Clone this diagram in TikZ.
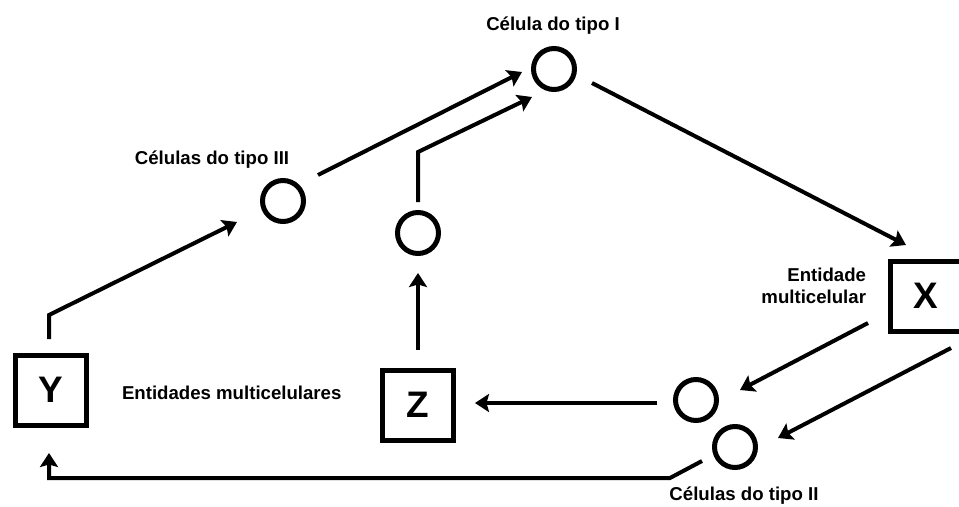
\documentclass[tikz,border=0pt]{standalone}
\usepackage{fontspec}
\setmainfont{Liberation Sans}
\usetikzlibrary{arrows.meta}

\begin{document}
\begin{tikzpicture}[x=0.2mm,y=-0.2mm,->,>={Stealth[length=2.8mm,width=3.6mm,inset=0.5mm]},line width=0.8mm,
cell/.style={circle,draw,line width=1mm,minimum size=8.2mm,inner sep=0pt},
entity/.style={rectangle,draw,line width=1mm,minimum width=14.2mm,minimum height=14mm,font=\fontsize{21}{21}\selectfont\bfseries},
lbl/.style={font=\fontsize{10.6}{12.6}\selectfont\bfseries,inner sep=0pt}]
\useasboundingbox (0,0) rectangle (959,507);
\node[cell] (c1) at (554,69) {};
\node[cell] (c3) at (283,201) {};
\node[cell] (c4) at (418,233) {};
\node[cell] (c2a) at (696,400) {};
\node[cell] (c2b) at (735,447) {};
\node[entity] (Y) at (51,390) {Y};
\node[entity] (Z) at (418,405) {Z};
\node[entity] (X) at (926,296) {X};
\node[lbl] (l1) at (553,26) {Célula do tipo I};
\node[lbl] (l3) at (212,160) {Células do tipo III};
\node[lbl, align=right, anchor=east] (lx) at (868,286) {Entidade\\multicelular};
\node[lbl, anchor=west] (lyz) at (120,393) {Entidades multicelulares};
\node[lbl] (l2) at (744,496) {Células do tipo II};
\draw ([shift={(-2,-51)}]Y.center) -- ++(0,-24) -- ([shift={(-46,21)}]c3.center);
\path ([shift={(35,-26)}]c3.center) edge ([shift={(-32,3)}]c1.center);
\draw ([shift={(0,-31)}]c4.center) -- ++(0,-50) -- ([shift={(-22,28)}]c1.center);
\path ([shift={(0,-55)}]Z.center) edge ([shift={(0,40)}]c4.center);
\path ([shift={(38,14)}]c1.center) edge ([shift={(-20,-51)}]X.center);
\path ([shift={(-58,27)}]X.center) edge ([shift={(44,-10)}]c2a.center);
\path ([shift={(25,52)}]X.center) edge ([shift={(43,-9)}]c2b.center);
\path ([shift={(-39,3)}]c2a.center) edge ([shift={(57,-2)}]Z.center);
\draw ([shift={(-33,14)}]c2b.center) -- ++(-32,17) -| ([shift={(-2,63)}]Y.center);
\end{tikzpicture}
\end{document}
